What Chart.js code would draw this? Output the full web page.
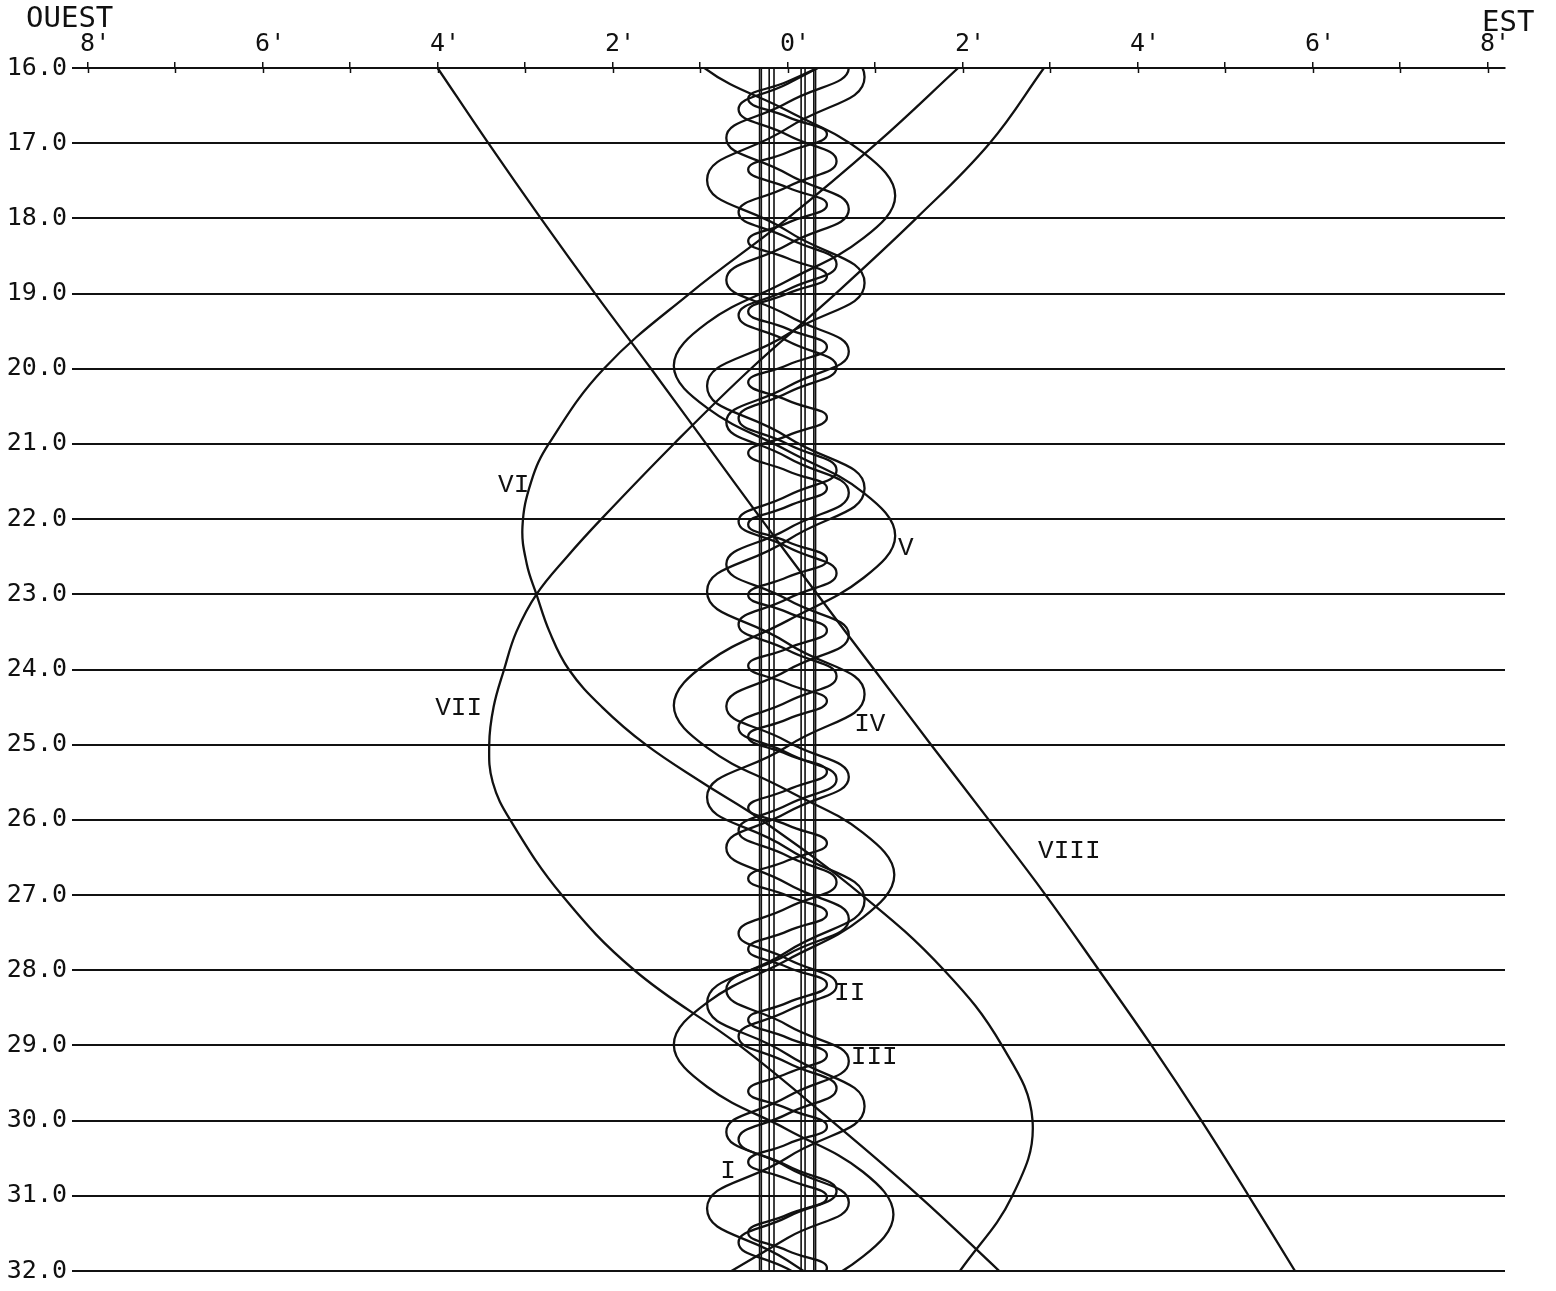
<!DOCTYPE html>
<html>
<head>
<meta charset="utf-8">
<title>Satellites</title>
<script src="https://cdn.jsdelivr.net/npm/chart.js@4.4.1/dist/chart.umd.min.js"></script>
<style>
  html, body { margin: 0; padding: 0; background: #fff; }
  #wrap { position: relative; width: 1556px; height: 1291px; }
</style>
</head>
<body>
<div id="wrap"><canvas id="chart" width="1556" height="1291"></canvas></div>
<script>
// Elongations in arc minutes (negative = Ouest, positive = Est), read as [day, arcmin]
const dayTicks = [16, 17, 18, 19, 20, 21, 22, 23, 24, 25, 26, 27, 28, 29, 30, 31, 32];
const arcTicks = [-8, -7, -6, -5, -4, -3, -2, -1, 0, 1, 2, 3, 4, 5, 6, 7, 8];

// ring / globe edges
const ringEdges = [-0.32, -0.30, -0.21, -0.155, 0.155, 0.20, 0.30, 0.32];

const satI = [[15.94,0.45],[16.18,0],[16.41,-0.45],[16.65,0],[16.88,0.45],[17.12,0],[17.35,-0.45],[17.59,0],[17.82,0.45],[18.06,0],[18.30,-0.45],[18.53,0],[18.77,0.45],[19.00,0],[19.24,-0.45],[19.47,0],[19.71,0.45],[19.95,0],[20.18,-0.45],[20.42,0],[20.65,0.45],[20.89,0],[21.12,-0.45],[21.36,0],[21.59,0.45],[21.83,0],[22.07,-0.45],[22.30,0],[22.54,0.45],[22.77,0],[23.01,-0.45],[23.24,0],[23.48,0.45],[23.72,0],[23.95,-0.45],[24.19,0],[24.42,0.45],[24.66,0],[24.89,-0.45],[25.13,0],[25.36,0.45],[25.60,0],[25.84,-0.45],[26.07,0],[26.31,0.45],[26.54,0],[26.78,-0.45],[27.01,0],[27.25,0.45],[27.48,0],[27.72,-0.45],[27.96,0],[28.19,0.45],[28.43,0],[28.66,-0.45],[28.90,0],[29.13,0.45],[29.37,0],[29.61,-0.45],[29.84,0],[30.08,0.45],[30.31,0],[30.55,-0.45],[30.78,0],[31.02,0.45],[31.25,0],[31.49,-0.45],[31.73,0],[31.96,0.45],[32.20,0],[32.43,-0.45]];

const satII = [[15.87,0.56],[16.21,0],[16.55,-0.56],[16.89,0],[17.24,0.56],[17.58,0],[17.92,-0.56],[18.26,0],[18.61,0.56],[18.95,0],[19.29,-0.56],[19.63,0],[19.98,0.56],[20.32,0],[20.66,-0.56],[21.00,0],[21.35,0.56],[21.69,0],[22.03,-0.56],[22.37,0],[22.72,0.56],[23.06,0],[23.40,-0.56],[23.74,0],[24.09,0.56],[24.43,0],[24.77,-0.56],[25.11,0],[25.46,0.56],[25.80,0],[26.14,-0.56],[26.48,0],[26.83,0.56],[27.17,0],[27.51,-0.56],[27.85,0],[28.20,0.56],[28.54,0],[28.88,-0.56],[29.23,0],[29.57,0.56],[29.91,0],[30.25,-0.56],[30.60,0],[30.94,0.56],[31.28,0],[31.62,-0.56],[31.97,0],[32.31,0.56]];

const satIII = [[15.52,0],[15.99,0.7],[16.46,0],[16.93,-0.7],[17.41,0],[17.88,0.7],[18.35,0],[18.82,-0.7],[19.29,0],[19.77,0.7],[20.24,0],[20.71,-0.7],[21.18,0],[21.65,0.7],[22.13,0],[22.60,-0.7],[23.07,0],[23.54,0.7],[24.01,0],[24.49,-0.7],[24.96,0],[25.43,0.7],[25.90,0],[26.37,-0.7],[26.85,0],[27.32,0.7],[27.79,0],[28.26,-0.7],[28.73,0],[29.21,0.7],[29.68,0],[30.15,-0.7],[30.62,0],[31.09,0.7],[31.56,0],[32.04,-0.7]];

const satIV = [[14.75,-0.9],[15.44,0],[16.12,0.88],[16.80,0],[17.49,-0.92],[18.17,0],[18.86,0.88],[19.54,0],[20.23,-0.92],[20.91,0],[21.59,0.88],[22.28,0],[22.96,-0.92],[23.65,0],[24.33,0.88],[25.02,0],[25.70,-0.92],[26.38,0],[27.07,0.88],[27.75,0],[28.44,-0.92],[29.12,0],[29.81,0.88],[30.49,0],[31.17,-0.92],[31.86,0],[32.54,0.88]];

const satV = [[15.44,-1.3],[16.0,-0.95],[16.57,0],[17.13,0.87],[17.70,1.23],[18.26,0.87],[18.83,0],[19.39,-0.92],[19.96,-1.3],[20.52,-0.92],[21.09,0],[21.65,0.87],[22.22,1.23],[22.78,0.87],[23.35,0],[23.91,-0.92],[24.48,-1.3],[25.04,-0.92],[25.61,0],[26.17,0.86],[26.73,1.22],[27.30,0.86],[27.86,0],[28.43,-0.92],[28.99,-1.3],[29.55,-0.92],[30.12,0],[30.68,0.86],[31.25,1.21],[31.81,0.86],[32.38,0]];

const satVI = [[16,1.95],[17,1.02],[18,0.0],[19,-1.12],[20,-2.1],[21,-2.73],[21.5,-2.93],[22.1,-3.03],[22.6,-2.98],[23,-2.87],[23.5,-2.72],[24,-2.5],[24.5,-2.12],[25,-1.62],[25.5,-0.98],[26,-0.3],[27,0.85],[28,1.79],[29,2.45],[30,2.8],[31,2.57],[32,1.97]];

const satVII = [[16,2.93],[17,2.31],[18,1.47],[19,0.55],[20,-0.42],[21,-1.3],[22,-2.13],[22.5,-2.52],[23,-2.87],[23.5,-3.1],[24,-3.24],[24.5,-3.36],[25,-3.41],[25.5,-3.37],[26,-3.17],[27,-2.58],[28,-1.75],[29,-0.55],[30,0.5],[31,1.5],[32,2.42]];

const satVIII = [[16,-4.0],[17,-3.42],[18,-2.82],[19,-2.2],[20,-1.56],[21,-0.93],[22,-0.3],[23,0.34],[24,0.99],[25,1.64],[26,2.3],[27,2.95],[28,3.56],[29,4.16],[30,4.73],[31,5.27],[32,5.8]];

// curve names, placed at [day, arcmin]
const curveLabels = [
  { text: 'VI', day: 21.55, arc: -3.13 },
  { text: 'V', day: 22.39, arc: 1.35 },
  { text: 'VII', day: 24.52, arc: -3.76 },
  { text: 'IV', day: 24.72, arc: 0.94 },
  { text: 'VIII', day: 26.41, arc: 3.22 },
  { text: 'II', day: 28.3, arc: 0.71 },
  { text: 'III', day: 29.16, arc: 0.99 },
  { text: 'I', day: 30.67, arc: -0.68 }
];

const INK = '#111';

function toPoints(pairs) {
  return pairs.map(p => ({ x: p[1], y: p[0] }));
}

function curve(pairs, tension) {
  return {
    data: toPoints(pairs),
    borderColor: INK,
    borderWidth: 2.3,
    pointRadius: 0,
    tension: tension,
    fill: false
  };
}

const datasets = [];
ringEdges.forEach(r => {
  datasets.push({
    data: toPoints([[16, r], [32, r]]),
    borderColor: INK,
    borderWidth: 1.6,
    pointRadius: 0,
    tension: 0,
    fill: false
  });
});
[satI, satII, satIII, satIV].forEach(s => datasets.push(curve(s, 0.5)));
[satV, satVI, satVII, satVIII].forEach(s => datasets.push(curve(s, 0.4)));

const textPlugin = {
  id: 'textLabels',
  afterDatasetsDraw(chart) {
    const { ctx, scales, chartArea } = chart;
    ctx.save();
    // tick marks also crossing below the top axis line
    ctx.strokeStyle = INK;
    ctx.lineWidth = 1.5;
    arcTicks.forEach(v => {
      const px = Math.round(scales.x.getPixelForValue(v)) + 0.5;
      ctx.beginPath();
      ctx.moveTo(px, chartArea.top);
      ctx.lineTo(px, chartArea.top + 5);
      ctx.stroke();
    });
    ctx.fillStyle = INK;
    ctx.textAlign = 'center';
    ctx.textBaseline = 'middle';
    ctx.font = '26px "Liberation Mono"';
    curveLabels.forEach(l => {
      ctx.fillText(l.text, scales.x.getPixelForValue(l.arc), scales.y.getPixelForValue(l.day));
    });
    ctx.font = '29px "DejaVu Sans Mono"';
    ctx.textAlign = 'left';
    ctx.textBaseline = 'top';
    ctx.fillText('OUEST', 26, 5);
    ctx.fillText('EST', 1482, 9);
    ctx.restore();
  }
};

new Chart(document.getElementById('chart'), {
  type: 'line',
  data: { datasets },
  plugins: [textPlugin],
  options: {
    responsive: false,
    animation: false,
    events: [],
    layout: { padding: { left: 0, top: 0, right: 51, bottom: 14 } },
    plugins: { legend: { display: false }, tooltip: { enabled: false } },
    scales: {
      x: {
        type: 'linear',
        position: 'top',
        min: -8.11,
        max: 8.2,
        afterBuildTicks: axis => { axis.ticks = arcTicks.map(v => ({ value: v })); },
        afterFit: axis => { axis.height = 68; },
        ticks: {
          autoSkip: false,
          maxRotation: 0,
          padding: 3,
          color: INK,
          font: { family: 'DejaVu Sans Mono', size: 25 },
          callback: v => (v % 2 === 0 ? ' ' + Math.abs(v) + "'" : '')
        },
        grid: { drawOnChartArea: false, drawTicks: true, tickLength: 6, color: INK, lineWidth: 1.5 },
        border: { display: true, color: INK, width: 2 }
      },
      y: {
        type: 'linear',
        reverse: true,
        min: 16,
        max: 32,
        afterBuildTicks: axis => { axis.ticks = dayTicks.map(v => ({ value: v })); },
        afterFit: axis => { axis.width = 78; },
        ticks: {
          padding: 5,
          color: INK,
          font: { family: 'DejaVu Sans Mono', size: 25 },
          callback: v => v.toFixed(1)
        },
        grid: { color: INK, lineWidth: 2, drawTicks: true, tickLength: 6 },
        border: { display: false }
      }
    }
  }
});
</script>
</body>
</html>
